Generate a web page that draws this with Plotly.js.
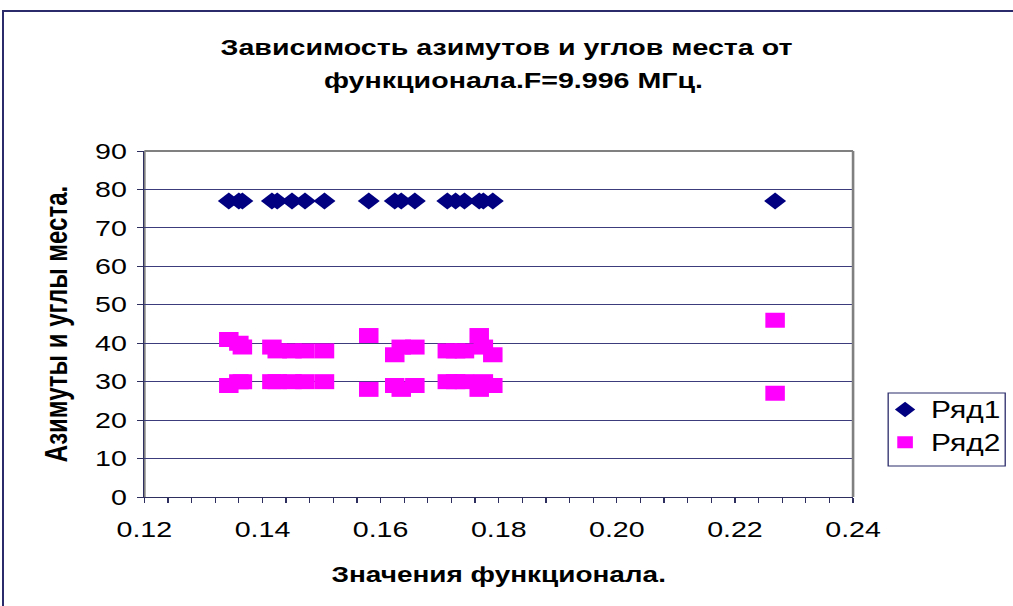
<!DOCTYPE html>
<html>
<head>
<meta charset="utf-8">
<script src="https://cdn.plot.ly/plotly-3.0.1.min.js"></script>
<style>
  html, body { margin: 0; padding: 0; background: #fff; overflow: hidden; }
  #frame {
    position: absolute; left: 2px; top: 10px; width: 1200px; height: 800px;
    border-left: 2px solid #2b2b6b; border-top: 2px solid #2b2b6b;
    pointer-events: none; z-index: 5;
  }
  #chart {
    position: absolute; left: 0; top: 0;
    transform: scaleX(1.3004); transform-origin: 0 0;
  }
</style>
</head>
<body>
<div id="chart"></div>
<div id="frame"></div>
<script>
// Значения функционала (ось X)
const functional = [0.1343, 0.1360, 0.1366, 0.1416, 0.1425, 0.1450, 0.1472, 0.1505,
                    0.1580, 0.1624, 0.1635, 0.1658, 0.1713, 0.1727, 0.1742, 0.1767,
                    0.1774, 0.1790, 0.2268];
// Ряд1: азимуты
const azimuth = [77, 77, 77, 77, 77, 77, 77, 77, 77, 77, 77, 77, 77, 77, 77, 77, 77, 77, 77];
// Ряд2: углы места (два луча на каждое значение функционала)
const elevationHigh = [41, 40, 39, 39, 38, 38, 38, 38, 42, 37, 39, 39, 38, 38, 38, 42, 39, 37, 46];
const elevationLow  = [29, 30, 30, 30, 30, 30, 30, 30, 28, 29, 28, 29, 30, 30, 30, 28, 30, 29, 27];

const seriesNames = ['Ряд1', 'Ряд2'];
const xTicks = [0.12, 0.14, 0.16, 0.18, 0.20, 0.22, 0.24];
const yTicks = [0, 10, 20, 30, 40, 50, 60, 70, 80, 90];
const titleLines = ['Зависимость азимутов и углов места от', 'функционала.F=9.996 МГц.'];

const FONT = 'Liberation Sans, Arial, sans-serif';
const AXIS = '#2f2f5f';

// plot area in layout pixels: left 111, width 545, top 151, height 346
const px2x = p => (p - 111) / 545;
const px2y = p => (497 - p) / 346;

const traces = [
  {
    type: 'scatter', mode: 'markers', name: seriesNames[0],
    x: functional, y: azimuth,
    marker: { symbol: 'diamond', size: 13, color: '#000080' }
  },
  {
    type: 'scatter', mode: 'markers', name: seriesNames[1],
    x: functional.concat(functional), y: elevationHigh.concat(elevationLow),
    marker: { symbol: 'square', size: 15, color: '#ff00ff' }
  }
];

const layout = {
  width: 779, height: 606,
  margin: { l: 111, r: 123, t: 151, b: 109, pad: 0, autoexpand: false },
  paper_bgcolor: '#ffffff', plot_bgcolor: '#ffffff',
  font: { family: FONT, color: '#000000', size: 21 },
  showlegend: true,
  title: {
    text: '<b>' + titleLines[0] + '</b>',
    font: { family: FONT, size: 22, color: '#000000' },
    x: 0.5, xref: 'container', xanchor: 'center',
    y: 1 - 47 / 606, yref: 'container', yanchor: 'middle'
  },
  annotations: [
    { text: '<b>' + titleLines[1] + '</b>', showarrow: false,
      xref: 'paper', yref: 'paper', x: px2x(395), xanchor: 'center',
      y: px2y(81), yanchor: 'middle',
      font: { family: FONT, size: 22, color: '#000000' } }
  ],
  xaxis: {
    range: [0.12, 0.24], tickvals: xTicks, tickformat: '.2f',
    ticks: 'outside', ticklen: 5, tickcolor: AXIS, tickwidth: 1,
    minor: { dtick: 0.004, tick0: 0.12, ticks: 'outside', ticklen: 5, tickcolor: AXIS, showgrid: false },
    showgrid: false, zeroline: false,
    showline: true, linecolor: AXIS, linewidth: 1,
    tickfont: { family: FONT, size: 22, color: '#000000' },
    ticklabelstandoff: 8,
    title: { text: '<b>Значения функционала.</b>', font: { family: FONT, size: 21.5, color: '#000000' }, standoff: 25 }
  },
  yaxis: {
    range: [0, 90], tickvals: yTicks,
    ticks: 'outside', ticklen: 5, tickcolor: AXIS, tickwidth: 1,
    showgrid: true, gridcolor: '#3c3c7c', gridwidth: 1,
    zeroline: false,
    showline: true, linecolor: AXIS, linewidth: 1,
    tickfont: { family: FONT, size: 22, color: '#000000' },
    ticklabelstandoff: 3,
    title: { text: '<b>Азимуты и углы места.</b>', font: { family: FONT, size: 24, color: '#000000' }, standoff: 14 }
  },
  legend: {
    x: px2x(676), xanchor: 'left', y: px2y(388), yanchor: 'top',
    bgcolor: 'rgba(0,0,0,0)', borderwidth: 0,
    font: { family: FONT, size: 23, color: '#000000' },
    itemsizing: 'constant', tracegroupgap: 2
  },
  shapes: [
    // серая рамка области построения
    { type: 'line', xref: 'paper', yref: 'paper', x0: 0, x1: 1, y0: 1, y1: 1,
      line: { color: '#808080', width: 2 } },
    { type: 'line', xref: 'paper', yref: 'paper', x0: 1, x1: 1, y0: 0, y1: 1,
      line: { color: '#808080', width: 2 } },
    { type: 'line', xref: 'paper', yref: 'paper', x0: 0, x1: 0, y0: 0, y1: 1,
      line: { color: '#808080', width: 2 }, layer: 'below' },
    // рамка легенды
    { type: 'rect', xref: 'paper', yref: 'paper',
      x0: px2x(683), x1: px2x(773), y0: px2y(466), y1: px2y(393),
      line: { color: '#2b2b6b', width: 1 }, fillcolor: '#ffffff', layer: 'below' }
  ]
};

Plotly.newPlot('chart', traces, layout, { displayModeBar: false, staticPlot: true });
</script>
</body>
</html>
